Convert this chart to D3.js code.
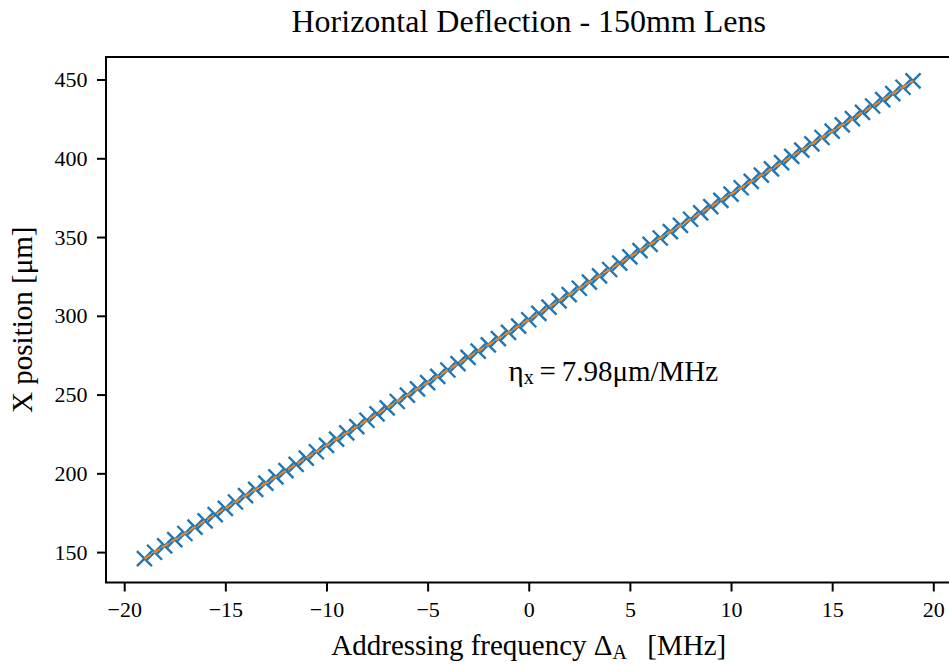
<!DOCTYPE html>
<html>
<head>
<meta charset="utf-8">
<script src="https://cdn.jsdelivr.net/npm/d3@7"></script>
<style>
  body { margin: 0; background: #fff; }
  svg { display: block; font-family: "Liberation Serif", "DejaVu Serif", serif; }
  .axis path, .axis line { stroke: #000; }
  .axis text { font-family: "Liberation Serif", serif; font-size: 22px; fill: #000; }
</style>
</head>
<body>
<div id="chart"></div>
<script>
// addressing frequency [MHz], measured in 0.5 MHz steps
const frequencies = [
  -19, -18.5, -18, -17.5, -17, -16.5, -16, -15.5, -15, -14.5,
  -14, -13.5, -13, -12.5, -12, -11.5, -11, -10.5, -10, -9.5,
  -9, -8.5, -8, -7.5, -7, -6.5, -6, -5.5, -5, -4.5,
  -4, -3.5, -3, -2.5, -2, -1.5, -1, -0.5, 0, 0.5,
  1, 1.5, 2, 2.5, 3, 3.5, 4, 4.5, 5, 5.5,
  6, 6.5, 7, 7.5, 8, 8.5, 9, 9.5, 10, 10.5,
  11, 11.5, 12, 12.5, 13, 13.5, 14, 14.5, 15, 15.5,
  16, 16.5, 17, 17.5, 18, 18.5, 19
]

// measured X position [um]
const positions = [
  145.9, 149.9, 153.9, 157.9, 161.8, 165.8, 169.8, 173.8, 177.8, 181.8,
  185.8, 189.8, 193.8, 197.8, 201.7, 205.7, 209.7, 213.7, 217.7, 221.7,
  225.7, 229.7, 233.7, 237.7, 241.6, 245.6, 249.6, 253.6, 257.6, 261.6,
  265.6, 269.6, 273.6, 277.6, 281.5, 285.5, 289.5, 293.5, 297.5, 301.5,
  305.5, 309.5, 313.5, 317.5, 321.4, 325.4, 329.4, 333.4, 337.4, 341.4,
  345.4, 349.4, 353.4, 357.4, 361.3, 365.3, 369.3, 373.3, 377.3, 381.3,
  385.3, 389.3, 393.3, 397.3, 401.2, 405.2, 409.2, 413.2, 417.2, 421.2,
  425.2, 429.2, 433.2, 437.2, 441.1, 445.1, 449.1
]

// linear fit endpoints
const fitX = [-19, 19]
const fitY = [145.9, 449.1]

const xTicks = [-20, -15, -10, -5, 0, 5, 10, 15, 20]
const yTicks = [150, 200, 250, 300, 350, 400, 450]

const width = 949, height = 664
const margin = { top: 57, right: -2.5, bottom: 81.5, left: 106 }
const w = width - margin.left - margin.right
const h = height - margin.top - margin.bottom

const svg = d3.select('#chart').append('svg')
    .attr('width', width)
    .attr('height', height)

const g = svg.append('g')
    .attr('transform', 'translate(' + margin.left + ',' + margin.top + ')')

const xScale = d3.scaleLinear().domain([-20.9, 20.9]).range([0, w])
const yScale = d3.scaleLinear().domain([130.7, 464.3]).range([h, 0])

// axes
g.append('g')
    .attr('class', 'axis')
    .attr('transform', 'translate(0,' + h + ')')
    .call(d3.axisBottom(xScale).tickValues(xTicks).tickSize(9).tickPadding(9.5).tickFormat(d3.format('d')))
g.append('g')
    .attr('class', 'axis')
    .call(d3.axisLeft(yScale).tickValues(yTicks).tickSize(9).tickPadding(9.5))

g.selectAll('.axis')
    .attr('font-family', '"Liberation Serif", serif')
    .attr('font-size', 22)
g.selectAll('.axis .domain').remove()
g.selectAll('.axis line').attr('stroke-width', 2)

// spines
const spine = [[0, 0], [w, 0], [w, h], [0, h]]
g.append('path')
    .attr('d', d3.line()(spine) + 'Z')
    .attr('fill', 'none')
    .attr('stroke', '#000')
    .attr('stroke-width', 2)

// data markers
const pts = frequencies.map((f, i) => ({ x: f, y: positions[i] }))
const s = 7.5
g.append('g').selectAll('path')
    .data(pts)
    .enter()
      .append('path')
      .attr('d', d => {
        const cx = xScale(d.x), cy = yScale(d.y)
        return 'M' + (cx - s) + ',' + (cy - s) + 'L' + (cx + s) + ',' + (cy + s) +
               'M' + (cx - s) + ',' + (cy + s) + 'L' + (cx + s) + ',' + (cy - s)
      })
      .attr('stroke', '#1f77b4')
      .attr('stroke-width', 2.4)

// fit line
const line = d3.line()
    .x(d => xScale(d[0]))
    .y(d => yScale(d[1]))
g.append('path')
    .attr('d', line(fitX.map((x, i) => [x, fitY[i]])))
    .attr('fill', 'none')
    .attr('stroke', '#ff7f0e')
    .attr('stroke-width', 2)
    .attr('stroke-dasharray', '7.4,3.2')

// annotation
const note = g.append('text')
    .attr('x', xScale(-1))
    .attr('y', yScale(258.8))
    .attr('font-size', 29)
note.append('tspan').text('η')
note.append('tspan').attr('font-size', 20).attr('dy', 3).text('x')
note.append('tspan').attr('dy', -3).text('\u2009=\u20097.98μm/MHz')

// title and labels
svg.append('text')
    .attr('x', margin.left + xScale(0))
    .attr('y', 32)
    .attr('text-anchor', 'middle')
    .attr('font-size', 32)
    .text('Horizontal Deflection - 150mm Lens')

const xl = svg.append('text')
    .attr('x', margin.left + xScale(0))
    .attr('y', 655)
    .attr('text-anchor', 'middle')
    .attr('font-size', 29)
xl.append('tspan').text('Addressing frequency Δ')
xl.append('tspan').attr('font-size', 20).attr('dy', 4).text('A')
xl.append('tspan').attr('dy', -4).text('\u2002\u2009[MHz]')

svg.append('text')
    .attr('transform', 'translate(32,' + (margin.top + h / 2) + ') rotate(-90)')
    .attr('text-anchor', 'middle')
    .attr('font-size', 29)
    .text('X position [μm]')
</script>
</body>
</html>
